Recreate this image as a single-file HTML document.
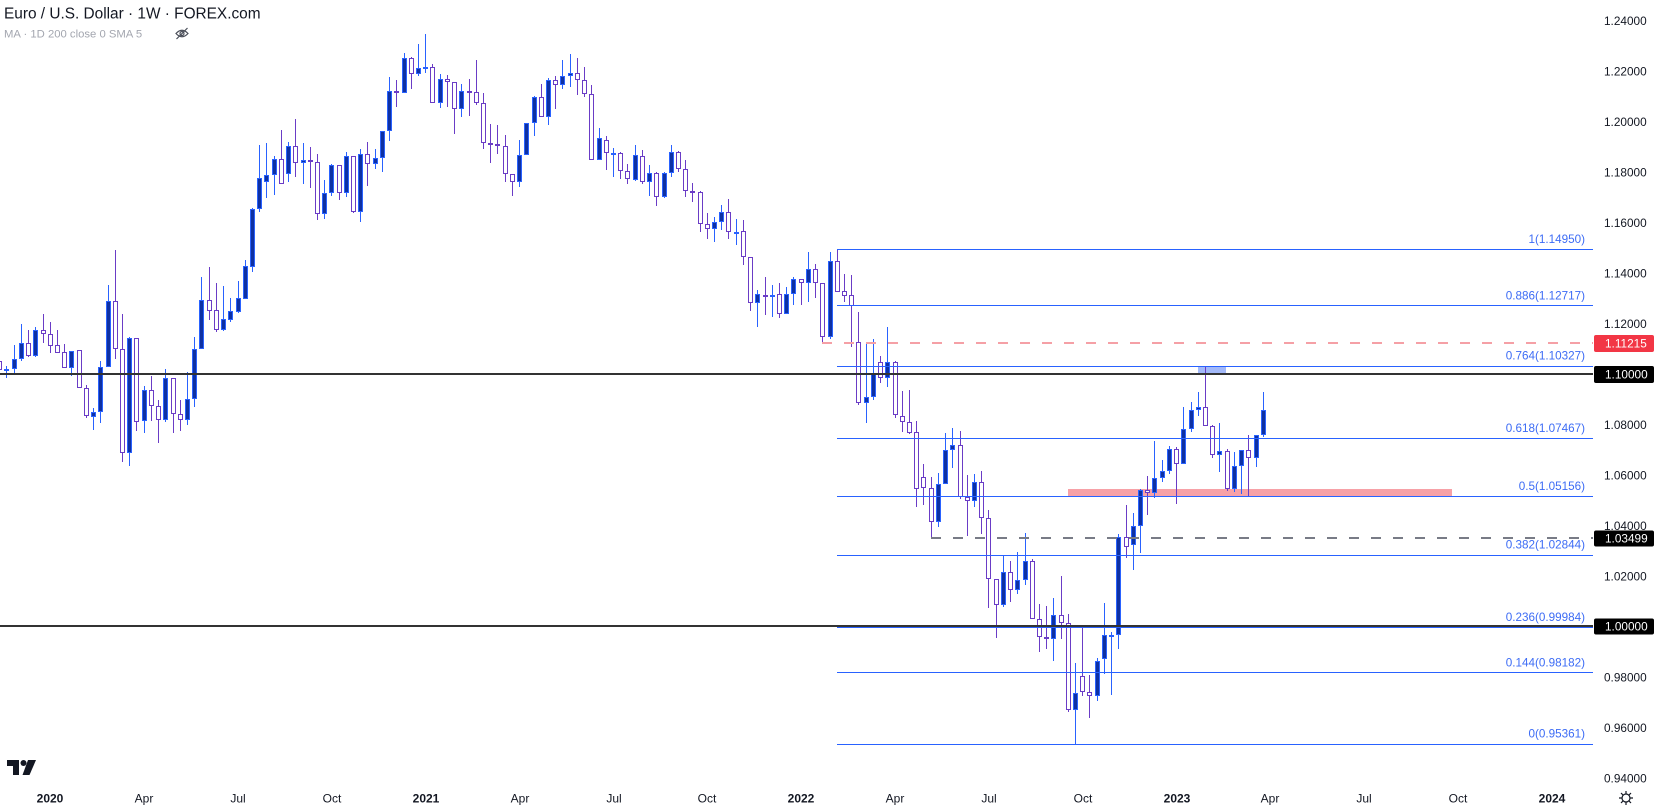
<!DOCTYPE html>
<html>
<head>
<meta charset="utf-8">
<style>
html,body{margin:0;padding:0;background:#fff;}
svg{display:block;font-family:"Liberation Sans",sans-serif;}
.wu{stroke:#2962ff;stroke-width:1;fill:none;}
.wd{stroke:#6a3cc6;stroke-width:1;fill:none;}
.bu rect{fill:#0e31a3;stroke:#2962ff;stroke-width:1;}
.bd rect{fill:#ffffff;stroke:#6a3cc6;stroke-width:1;}
.fib{stroke:#2962ff;stroke-width:1;}
.fl{font-size:11.7px;fill:#3d6cf5;text-anchor:end;}
.pl{font-size:11.8px;fill:#131722;}
.bl{font-size:11.8px;fill:#ffffff;}
.tl{font-size:12px;fill:#131722;text-anchor:middle;}
.ty{font-size:12px;fill:#131722;text-anchor:middle;font-weight:bold;}
</style>
</head>
<body>
<svg width="1655" height="809" viewBox="0 0 1655 809" xmlns="http://www.w3.org/2000/svg">
<rect x="0" y="0" width="1655" height="809" fill="#ffffff"/>

<!-- zones -->
<rect x="1068" y="489" width="384" height="7" fill="#f7a1a7"/>
<rect x="1198" y="366" width="28" height="8" fill="#a3b9f9"/>

<!-- wicks -->
<path class="wu" d="M6.5 366V378 M14.5 345V373 M21.5 324V361 M35.5 327V357 M71.5 351V376 M93.5 408V430 M100.5 361V423 M108.5 285V367 M129.5 337V466 M144.5 386V433 M165.5 369V422 M187.5 372V425 M194.5 337V407 M201.5 277V349 M223.5 286V331 M230.5 298V322 M238.5 281V313 M245.5 260V299 M252.5 208V272 M259.5 145V212 M266.5 143V198 M274.5 156V195 M288.5 142V182 M303.5 143V184 M324.5 180V219 M331.5 164V196 M346.5 152V197 M360.5 149V222 M375.5 149V169 M382.5 131V172 M389.5 77V141 M404.5 53V93 M418.5 44V76 M425.5 34V73 M440.5 74V108 M461.5 84V117 M519.5 140V187 M526.5 123V155 M534.5 96V136 M548.5 78V125 M562.5 60V89 M570.5 54V87 M599.5 128V160 M613.5 148V177 M635.5 145V181 M649.5 165V196 M664.5 172V198 M671.5 145V177 M714.5 217V242 M721.5 205V230 M736.5 219V245 M757.5 290V327 M772.5 285V317 M786.5 287V314 M793.5 277V305 M808.5 252V302 M830.5 252V339 M866.5 344V423 M873.5 339V400 M887.5 327V387 M938.5 473V527 M945.5 433V484 M952.5 428V468 M974.5 474V507 M1003.5 556V607 M1017.5 552V594 M1025.5 533V585 M1053.5 598V661 M1075.5 663V744 M1097.5 658V701 M1104.5 603V674 M1111.5 632V695 M1118.5 534V649 M1133.5 513V570 M1140.5 489V553 M1154.5 441V498 M1162.5 460V482 M1169.5 446V474 M1183.5 407V464 M1191.5 402V432 M1198.5 392V416 M1219.5 423V472 M1234.5 452V492 M1241.5 450V494 M1256.5 435V467 M1263.5 392V437"/>
<path class="wd" d="M-0.5 358V372 M28.5 330V357 M43.5 314V343 M50.5 322V353 M57.5 330V353 M64.5 344V368 M79.5 350V388 M86.5 385V418 M115.5 250V359 M122.5 314V462 M136.5 338V431 M151.5 376V421 M158.5 400V443 M173.5 378V433 M180.5 400V431 M209.5 267V320 M216.5 283V332 M281.5 130V184 M295.5 119V177 M310.5 147V188 M317.5 154V220 M339.5 165V200 M353.5 156V213 M367.5 142V186 M396.5 80V107 M411.5 57V89 M432.5 64V103 M447.5 75V107 M454.5 82V134 M469.5 79V116 M476.5 60V105 M483.5 93V149 M490.5 124V163 M497.5 125V154 M505.5 135V182 M512.5 174V196 M541.5 84V117 M555.5 76V109 M577.5 58V95 M584.5 67V97 M591.5 85V160 M606.5 136V170 M620.5 152V179 M627.5 164V184 M642.5 150V184 M656.5 172V206 M678.5 151V172 M685.5 160V197 M692.5 183V202 M700.5 191V232 M707.5 213V239 M728.5 199V239 M743.5 220V265 M750.5 257V311 M765.5 277V315 M779.5 283V318 M801.5 279V305 M815.5 264V298 M822.5 283V343 M837.5 249V292 M844.5 274V302 M851.5 275V347 M858.5 312V405 M880.5 356V383 M895.5 361V418 M902.5 391V432 M909.5 390V434 M916.5 421V507 M923.5 464V505 M931.5 477V538 M960.5 431V499 M967.5 475V536 M981.5 471V534 M988.5 510V608 M996.5 579V638 M1010.5 561V602 M1032.5 559V619 M1039.5 604V652 M1046.5 606V649 M1061.5 576V639 M1068.5 614V712 M1082.5 626V696 M1089.5 675V718 M1126.5 505V558 M1147.5 476V515 M1176.5 447V504 M1205.5 367V426 M1212.5 425V458 M1227.5 449V491 M1248.5 435V496"/>

<!-- up bodies -->
<g class="bu">
<rect x="4.5" y="369.5" width="4" height="1"/>
<rect x="12.5" y="359.5" width="4" height="9"/>
<rect x="19.5" y="343.5" width="4" height="15"/>
<rect x="33.5" y="330.5" width="4" height="25"/>
<rect x="69.5" y="351.5" width="4" height="16"/>
<rect x="91.5" y="412.5" width="4" height="4"/>
<rect x="98.5" y="367.5" width="4" height="44"/>
<rect x="106.5" y="301.5" width="4" height="65"/>
<rect x="127.5" y="338.5" width="4" height="114"/>
<rect x="142.5" y="390.5" width="4" height="30"/>
<rect x="163.5" y="378.5" width="4" height="41"/>
<rect x="185.5" y="399.5" width="4" height="20"/>
<rect x="192.5" y="349.5" width="4" height="49"/>
<rect x="199.5" y="300.5" width="4" height="48"/>
<rect x="221.5" y="319.5" width="4" height="10"/>
<rect x="228.5" y="311.5" width="4" height="8"/>
<rect x="236.5" y="298.5" width="4" height="13"/>
<rect x="243.5" y="266.5" width="4" height="32"/>
<rect x="250.5" y="209.5" width="4" height="57"/>
<rect x="257.5" y="178.5" width="4" height="30"/>
<rect x="264.5" y="175.5" width="4" height="6"/>
<rect x="272.5" y="159.5" width="4" height="15"/>
<rect x="286.5" y="146.5" width="4" height="27"/>
<rect x="301.5" y="160.5" width="4" height="2"/>
<rect x="322.5" y="193.5" width="4" height="20"/>
<rect x="329.5" y="165.5" width="4" height="27"/>
<rect x="344.5" y="156.5" width="4" height="36"/>
<rect x="358.5" y="154.5" width="4" height="57"/>
<rect x="373.5" y="158.5" width="4" height="5"/>
<rect x="380.5" y="131.5" width="4" height="26"/>
<rect x="387.5" y="91.5" width="4" height="39"/>
<rect x="402.5" y="58.5" width="4" height="34"/>
<rect x="416.5" y="68.5" width="4" height="5"/>
<rect x="423.5" y="67.5" width="4" height="1"/>
<rect x="438.5" y="79.5" width="4" height="23"/>
<rect x="459.5" y="91.5" width="4" height="17"/>
<rect x="517.5" y="155.5" width="4" height="26"/>
<rect x="524.5" y="123.5" width="4" height="31"/>
<rect x="532.5" y="97.5" width="4" height="25"/>
<rect x="546.5" y="80.5" width="4" height="36"/>
<rect x="560.5" y="76.5" width="4" height="8"/>
<rect x="568.5" y="73.5" width="4" height="2"/>
<rect x="597.5" y="138.5" width="4" height="21"/>
<rect x="611.5" y="153.5" width="4" height="1"/>
<rect x="633.5" y="155.5" width="4" height="24"/>
<rect x="647.5" y="173.5" width="4" height="8"/>
<rect x="662.5" y="173.5" width="4" height="23"/>
<rect x="669.5" y="152.5" width="4" height="20"/>
<rect x="712.5" y="222.5" width="4" height="6"/>
<rect x="719.5" y="212.5" width="4" height="9"/>
<rect x="734.5" y="232.5" width="4" height="1"/>
<rect x="755.5" y="294.5" width="4" height="8"/>
<rect x="770.5" y="295.5" width="4" height="1"/>
<rect x="784.5" y="294.5" width="4" height="19"/>
<rect x="791.5" y="279.5" width="4" height="14"/>
<rect x="806.5" y="269.5" width="4" height="13"/>
<rect x="828.5" y="261.5" width="4" height="75"/>
<rect x="864.5" y="397.5" width="4" height="5"/>
<rect x="871.5" y="373.5" width="4" height="23"/>
<rect x="885.5" y="362.5" width="4" height="15"/>
<rect x="936.5" y="484.5" width="4" height="37"/>
<rect x="943.5" y="450.5" width="4" height="33"/>
<rect x="950.5" y="445.5" width="4" height="4"/>
<rect x="972.5" y="482.5" width="4" height="18"/>
<rect x="1001.5" y="572.5" width="4" height="32"/>
<rect x="1015.5" y="580.5" width="4" height="9"/>
<rect x="1023.5" y="561.5" width="4" height="18"/>
<rect x="1051.5" y="615.5" width="4" height="23"/>
<rect x="1073.5" y="693.5" width="4" height="16"/>
<rect x="1095.5" y="661.5" width="4" height="34"/>
<rect x="1102.5" y="635.5" width="4" height="23"/>
<rect x="1109.5" y="635.5" width="4" height="1"/>
<rect x="1116.5" y="537.5" width="4" height="97"/>
<rect x="1131.5" y="526.5" width="4" height="18"/>
<rect x="1138.5" y="490.5" width="4" height="35"/>
<rect x="1152.5" y="478.5" width="4" height="14"/>
<rect x="1160.5" y="471.5" width="4" height="6"/>
<rect x="1167.5" y="449.5" width="4" height="21"/>
<rect x="1181.5" y="429.5" width="4" height="34"/>
<rect x="1189.5" y="410.5" width="4" height="18"/>
<rect x="1196.5" y="407.5" width="4" height="2"/>
<rect x="1217.5" y="451.5" width="4" height="3"/>
<rect x="1232.5" y="466.5" width="4" height="22"/>
<rect x="1239.5" y="450.5" width="4" height="15"/>
<rect x="1254.5" y="435.5" width="4" height="22"/>
<rect x="1261.5" y="410.5" width="4" height="24"/>
</g>

<!-- down bodies -->
<g class="bd">
<rect x="-2.5" y="361.5" width="4" height="8"/>
<rect x="26.5" y="343.5" width="4" height="12"/>
<rect x="41.5" y="330.5" width="4" height="3"/>
<rect x="48.5" y="334.5" width="4" height="11"/>
<rect x="55.5" y="345.5" width="4" height="7"/>
<rect x="62.5" y="352.5" width="4" height="15"/>
<rect x="77.5" y="350.5" width="4" height="37"/>
<rect x="84.5" y="388.5" width="4" height="27"/>
<rect x="113.5" y="301.5" width="4" height="47"/>
<rect x="120.5" y="349.5" width="4" height="103"/>
<rect x="134.5" y="338.5" width="4" height="83"/>
<rect x="149.5" y="390.5" width="4" height="15"/>
<rect x="156.5" y="406.5" width="4" height="13"/>
<rect x="171.5" y="378.5" width="4" height="35"/>
<rect x="178.5" y="414.5" width="4" height="5"/>
<rect x="207.5" y="300.5" width="4" height="10"/>
<rect x="214.5" y="310.5" width="4" height="19"/>
<rect x="279.5" y="159.5" width="4" height="24"/>
<rect x="293.5" y="146.5" width="4" height="16"/>
<rect x="308.5" y="160.5" width="4" height="1"/>
<rect x="315.5" y="162.5" width="4" height="51"/>
<rect x="337.5" y="165.5" width="4" height="27"/>
<rect x="351.5" y="156.5" width="4" height="55"/>
<rect x="365.5" y="154.5" width="4" height="9"/>
<rect x="394.5" y="91.5" width="4" height="1"/>
<rect x="409.5" y="58.5" width="4" height="15"/>
<rect x="430.5" y="67.5" width="4" height="35"/>
<rect x="445.5" y="79.5" width="4" height="2"/>
<rect x="452.5" y="82.5" width="4" height="26"/>
<rect x="467.5" y="91.5" width="4" height="1"/>
<rect x="474.5" y="92.5" width="4" height="10"/>
<rect x="481.5" y="103.5" width="4" height="39"/>
<rect x="488.5" y="143.5" width="4" height="1"/>
<rect x="495.5" y="144.5" width="4" height="1"/>
<rect x="503.5" y="146.5" width="4" height="27"/>
<rect x="510.5" y="174.5" width="4" height="7"/>
<rect x="539.5" y="97.5" width="4" height="19"/>
<rect x="553.5" y="80.5" width="4" height="4"/>
<rect x="575.5" y="73.5" width="4" height="6"/>
<rect x="582.5" y="80.5" width="4" height="13"/>
<rect x="589.5" y="94.5" width="4" height="65"/>
<rect x="604.5" y="140.5" width="4" height="12"/>
<rect x="618.5" y="153.5" width="4" height="17"/>
<rect x="625.5" y="171.5" width="4" height="7"/>
<rect x="640.5" y="156.5" width="4" height="25"/>
<rect x="654.5" y="173.5" width="4" height="23"/>
<rect x="676.5" y="152.5" width="4" height="16"/>
<rect x="683.5" y="169.5" width="4" height="21"/>
<rect x="690.5" y="191.5" width="4" height="1"/>
<rect x="698.5" y="192.5" width="4" height="31"/>
<rect x="705.5" y="224.5" width="4" height="4"/>
<rect x="726.5" y="212.5" width="4" height="19"/>
<rect x="741.5" y="231.5" width="4" height="25"/>
<rect x="748.5" y="257.5" width="4" height="45"/>
<rect x="763.5" y="295.5" width="4" height="1"/>
<rect x="777.5" y="294.5" width="4" height="19"/>
<rect x="799.5" y="279.5" width="4" height="3"/>
<rect x="813.5" y="269.5" width="4" height="13"/>
<rect x="820.5" y="283.5" width="4" height="53"/>
<rect x="835.5" y="261.5" width="4" height="30"/>
<rect x="842.5" y="291.5" width="4" height="4"/>
<rect x="849.5" y="295.5" width="4" height="10"/>
<rect x="856.5" y="342.5" width="4" height="60"/>
<rect x="878.5" y="362.5" width="4" height="15"/>
<rect x="893.5" y="362.5" width="4" height="52"/>
<rect x="900.5" y="416.5" width="4" height="5"/>
<rect x="907.5" y="422.5" width="4" height="10"/>
<rect x="914.5" y="432.5" width="4" height="56"/>
<rect x="921.5" y="477.5" width="4" height="10"/>
<rect x="929.5" y="488.5" width="4" height="33"/>
<rect x="958.5" y="445.5" width="4" height="51"/>
<rect x="965.5" y="497.5" width="4" height="3"/>
<rect x="979.5" y="482.5" width="4" height="35"/>
<rect x="986.5" y="518.5" width="4" height="60"/>
<rect x="994.5" y="579.5" width="4" height="25"/>
<rect x="1008.5" y="572.5" width="4" height="17"/>
<rect x="1030.5" y="561.5" width="4" height="57"/>
<rect x="1037.5" y="619.5" width="4" height="17"/>
<rect x="1044.5" y="637.5" width="4" height="1"/>
<rect x="1059.5" y="615.5" width="4" height="7"/>
<rect x="1066.5" y="623.5" width="4" height="86"/>
<rect x="1080.5" y="676.5" width="4" height="15"/>
<rect x="1087.5" y="692.5" width="4" height="3"/>
<rect x="1124.5" y="537.5" width="4" height="9"/>
<rect x="1145.5" y="490.5" width="4" height="2"/>
<rect x="1174.5" y="449.5" width="4" height="14"/>
<rect x="1203.5" y="407.5" width="4" height="18"/>
<rect x="1210.5" y="426.5" width="4" height="28"/>
<rect x="1225.5" y="451.5" width="4" height="37"/>
<rect x="1246.5" y="450.5" width="4" height="7"/>
</g>

<!-- fib lines -->
<g class="fib">
<line x1="837" y1="249.5" x2="1593" y2="249.5"/>
<line x1="837" y1="305.5" x2="1593" y2="305.5"/>
<line x1="837" y1="366.5" x2="1593" y2="366.5"/>
<line x1="837" y1="438.5" x2="1593" y2="438.5"/>
<line x1="837" y1="496.5" x2="1593" y2="496.5"/>
<line x1="837" y1="555.5" x2="1593" y2="555.5"/>
<line x1="837" y1="627.5" x2="1593" y2="627.5"/>
<line x1="837" y1="672.5" x2="1593" y2="672.5"/>
<line x1="837" y1="744.5" x2="1593" y2="744.5"/>
</g>

<!-- dashed lines -->
<line x1="822" y1="343" x2="1593" y2="343" stroke="#f5a0a6" stroke-width="2" stroke-dasharray="10 12"/>
<line x1="931" y1="538" x2="1593" y2="538" stroke="#787b86" stroke-width="2" stroke-dasharray="10 12"/>

<!-- black levels -->
<line x1="0" y1="374" x2="1593" y2="374" stroke="#333333" stroke-width="2"/>
<line x1="0" y1="626" x2="1593" y2="626" stroke="#333333" stroke-width="2"/>

<!-- fib labels -->
<text class="fl" x="1585" y="243.1">1(1.14950)</text>
<text class="fl" x="1585" y="299.4">0.886(1.12717)</text>
<text class="fl" x="1585" y="359.7">0.764(1.10327)</text>
<text class="fl" x="1585" y="431.9">0.618(1.07467)</text>
<text class="fl" x="1585" y="490.2">0.5(1.05156)</text>
<text class="fl" x="1585" y="548.7">0.382(1.02844)</text>
<text class="fl" x="1585" y="621">0.236(0.99984)</text>
<text class="fl" x="1585" y="666.3">0.144(0.98182)</text>
<text class="fl" x="1585" y="737.5">0(0.95361)</text>

<!-- price axis -->
<text class="pl" x="1604" y="25.1">1.24000</text>
<text class="pl" x="1604" y="75.6">1.22000</text>
<text class="pl" x="1604" y="126.1">1.20000</text>
<text class="pl" x="1604" y="176.6">1.18000</text>
<text class="pl" x="1604" y="227">1.16000</text>
<text class="pl" x="1604" y="277.5">1.14000</text>
<text class="pl" x="1604" y="328">1.12000</text>
<text class="pl" x="1604" y="429">1.08000</text>
<text class="pl" x="1604" y="479.4">1.06000</text>
<text class="pl" x="1604" y="529.9">1.04000</text>
<text class="pl" x="1604" y="580.4">1.02000</text>
<text class="pl" x="1604" y="681.4">0.98000</text>
<text class="pl" x="1604" y="731.9">0.96000</text>
<text class="pl" x="1604" y="782.3">0.94000</text>

<!-- price boxes -->
<rect x="1594" y="335" width="60" height="17" rx="2" fill="#f23645"/>
<text class="bl" x="1605" y="347.7">1.11215</text>
<rect x="1594" y="366" width="60" height="17" rx="2" fill="#000000"/>
<text class="bl" x="1605" y="378.7">1.10000</text>
<rect x="1594" y="530.5" width="60" height="16" rx="2" fill="#000000"/>
<text class="bl" x="1605" y="542.7">1.03499</text>
<rect x="1594" y="618.5" width="60" height="16" rx="2" fill="#000000"/>
<text class="bl" x="1605" y="630.7">1.00000</text>

<!-- time axis -->
<text class="ty" x="50" y="802.3">2020</text>
<text class="tl" x="144" y="802.3">Apr</text>
<text class="tl" x="238" y="802.3">Jul</text>
<text class="tl" x="332" y="802.3">Oct</text>
<text class="ty" x="426" y="802.3">2021</text>
<text class="tl" x="520" y="802.3">Apr</text>
<text class="tl" x="614" y="802.3">Jul</text>
<text class="tl" x="707" y="802.3">Oct</text>
<text class="ty" x="801" y="802.3">2022</text>
<text class="tl" x="895" y="802.3">Apr</text>
<text class="tl" x="989" y="802.3">Jul</text>
<text class="tl" x="1083" y="802.3">Oct</text>
<text class="ty" x="1177" y="802.3">2023</text>
<text class="tl" x="1270" y="802.3">Apr</text>
<text class="tl" x="1364" y="802.3">Jul</text>
<text class="tl" x="1458" y="802.3">Oct</text>
<text class="ty" x="1552" y="802.3">2024</text>

<!-- gear icon -->
<g transform="translate(1626,798)" stroke="#131722" stroke-width="1.2" fill="none">
<circle r="4"/>
<path d="M0 -7V-4.5 M0 4.5V7 M-7 0H-4.5 M4.5 0H7 M-5 -5L-3.2 -3.2 M3.2 3.2L5 5 M5 -5L3.2 -3.2 M-3.2 3.2L-5 5"/>
</g>

<!-- TradingView logo -->
<g fill="#131722">
<polygon points="7,760 19,760 19,775 13,775 13,766 7,766"/>
<circle cx="23.5" cy="763" r="3"/>
<polygon points="28,760 36,760 29.5,775 22.5,775"/>
</g>

<!-- legend -->
<text x="4" y="18.5" font-size="15.4" fill="#131722">Euro / U.S. Dollar · 1W · FOREX.com</text>
<text x="4" y="37.7" font-size="11.3" fill="#a3a6af">MA · 1D 200 close 0 SMA 5</text>
<g transform="translate(182,33.5)" stroke="#4a4e59" stroke-width="1.2" fill="none">
<path d="M-6 0 Q0 -6.5 6 0 Q0 6.5 -6 0 Z"/>
<circle r="2"/>
<line x1="-5.5" y1="5.5" x2="5.5" y2="-5.5"/>
</g>
</svg>
</body>
</html>
